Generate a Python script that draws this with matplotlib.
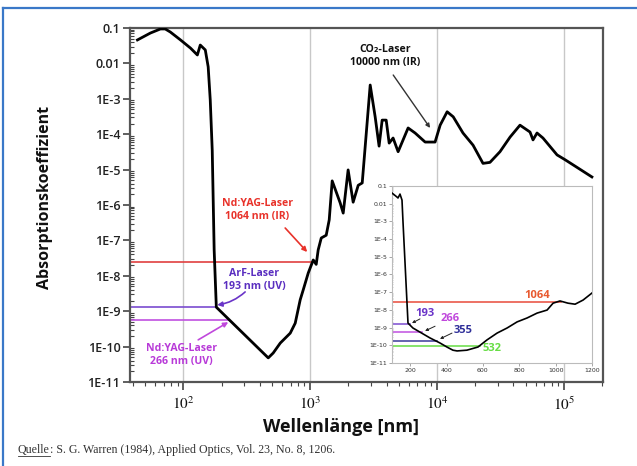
import math
import matplotlib
matplotlib.use("Agg")
import matplotlib.pyplot as plt
from matplotlib.lines import Line2D
from matplotlib.transforms import IdentityTransform
from matplotlib.ticker import LogLocator, FixedLocator, NullFormatter, FuncFormatter

plt.rcParams["mathtext.fontset"] = "stix"

# absorption spectrum of ice (Warren 1984), wavelength in nm
wl = [43.5, 55, 66, 72, 79, 95, 114, 129, 136, 149, 157, 163, 169, 175, 182,
      467, 511, 581, 696, 762, 834, 881, 965, 1057, 1115, 1156, 1222, 1337, 1412, 1490,
      1722, 1820, 1990, 2180, 2390, 2570, 2660, 2970, 3250, 3490, 3690, 3970, 4190, 4500,
      4930, 5910, 6710, 8050, 9640, 10570, 12000, 13400, 16000, 19200, 23000, 26100,
      31300, 37600, 45000, 54000, 57000, 61300, 68300, 88200, 102000, 126000, 166000]
absorb = [0.046, 0.072, 0.094, 0.094, 0.077, 0.046, 0.027, 0.0173, 0.033, 0.024, 0.008,
          9.3e-4, 3.5e-5, 5.4e-8, 1.3e-9,
          4.8e-11, 6.6e-11, 1.26e-10, 2.4e-10, 4.6e-10, 2.1e-9, 4.0e-9, 1.2e-8, 2.8e-8,
          2.1e-8, 5.4e-8, 1.17e-7, 1.4e-7, 3.8e-7, 4.8e-6,
          1.15e-6, 5.9e-7, 9.8e-6, 1.2e-6, 3.6e-6, 4.2e-6, 1.9e-5, 2.45e-3, 3.1e-4, 4.6e-5,
          2.5e-4, 2.5e-4, 5.6e-5, 7.8e-5, 3.2e-5, 1.5e-4, 1.08e-4, 6.0e-5, 6.0e-5, 1.8e-4,
          4.3e-4, 3.1e-4, 1.08e-4, 4.9e-5, 1.5e-5, 1.6e-5, 3.2e-5, 8.3e-5, 1.8e-4, 1.15e-4,
          6.9e-5, 1.08e-4, 7.8e-5, 2.6e-5, 1.9e-5, 1.17e-5, 6.2e-6]

# inset, linear wavelength axis
wl_in = [100, 127, 133, 144, 155, 160, 188, 215, 309, 364, 402, 435, 458, 512, 573,
         622, 678, 733, 788, 843, 898, 953, 986, 1024, 1068, 1107, 1151, 1200]
absorb_in = [0.040, 0.024, 0.021, 0.035, 0.016, 1.2e-3, 1.8e-9, 9.5e-10, 2.6e-10,
             1.35e-10, 8e-11, 5.3e-11, 4.8e-11, 5.3e-11, 8e-11, 2e-10, 4.9e-10, 9.5e-10,
             2.1e-9, 3.5e-9, 6.6e-9, 9.8e-9, 2.4e-8, 3.2e-8, 2.4e-8, 2.1e-8, 3.6e-8, 9e-8]

# laser lines in main plot
main_lasers = ["1064", "193", "266"]
main_level = [2.45e-8, 1.3e-9, 5.6e-10]
main_end = [1064, 180, 226]
main_colors = ["#e04040", "#7a4cd0", "#c050e0"]

# laser lines in inset
in_lasers = ["1064", "193", "266", "355", "532"]
in_level = [2.8e-8, 1.6e-9, 5.6e-10, 1.7e-10, 9.1e-11]
in_end = [1030, 200, 265, 345, 584]
in_colors = ["#e84a3a", "#7a4cd0", "#c050e0", "#3a3a9a", "#66dd44"]
in_text_colors = ["#e85a30", "#6a34c8", "#c048dc", "#30309a", "#66dd44"]

yticks = [10.0 ** e for e in range(-1, -12, -1)]
ylabels = ["0.1", "0.01"] + ["1E-%d" % e for e in range(3, 12)]

fig = plt.figure(figsize=(6.37, 4.66), dpi=100)
W, H = 637, 466


def px(x, y):
    return x / W, 1 - y / H


ax = fig.add_axes([130 / W, 1 - 382 / H, (603 - 130) / W, (382 - 28) / H])
ax.set_xscale("log")
ax.set_yscale("log")
ax.set_xlim(38, 2.03e5)
ax.set_ylim(1e-11, 0.1)
ax.grid(axis="x", which="major", color="#c8c8c8", lw=1)

for lv, end, c in zip(main_level, main_end, main_colors):
    ax.plot([38, end], [lv, lv], color=c, lw=1.2, zorder=2)
ax.plot(wl, absorb, color="black", lw=2, zorder=3, solid_joinstyle="round")

ax.yaxis.set_major_locator(FixedLocator(yticks))
ax.set_yticklabels(ylabels)
ax.yaxis.set_minor_locator(LogLocator(base=10, subs=range(2, 10), numticks=50))
ax.yaxis.set_minor_formatter(NullFormatter())
ax.xaxis.set_major_locator(FixedLocator([1e2, 1e3, 1e4, 1e5]))
ax.xaxis.set_major_formatter(FuncFormatter(lambda v, p: r"$10^{%d}$" % round(math.log10(v))))
ax.xaxis.set_minor_locator(LogLocator(base=10, subs=range(2, 10), numticks=50))
ax.xaxis.set_minor_formatter(NullFormatter())

ax.tick_params(axis="y", which="major", direction="out", length=5, width=1.2,
               color="#444444", labelsize=9, labelcolor="#222222", pad=2)
ax.tick_params(axis="y", which="minor", direction="in", length=3, width=0.8, color="#444444")
ax.tick_params(axis="x", which="major", direction="out", length=6, width=1.2,
               color="#444444", labelsize=11, labelcolor="#111111", pad=4)
ax.tick_params(axis="x", which="minor", direction="out", length=3, width=0.8, color="#444444")
for lab in ax.get_yticklabels():
    lab.set_family("Open Sans")
    lab.set_fontweight("semibold")
for s in ax.spines.values():
    s.set_color("#555555")
    s.set_linewidth(1.6)

# annotations, main plot
ann = dict(fontsize=7.6, fontweight="bold", family=["Open Sans", "DejaVu Sans"],
           ha="center", va="center", linespacing=1.25)
ax.text(383, 7.2e-7, "Nd:YAG-Laser\n1064 nm (IR)", color="#e8322a", **ann)
ax.annotate("", xy=(947, 4.7e-8), xytext=(635, 2.24e-7),
            arrowprops=dict(arrowstyle="-|>", color="#e8322a", lw=1.2,
                            mutation_scale=7, shrinkA=0, shrinkB=0))
ax.text(360, 7.6e-9, "ArF-Laser\n193 nm (UV)", color="#5a2ec0", **ann)
ax.annotate("", xy=(185, 1.5e-9), xytext=(307, 3.5e-9),
            arrowprops=dict(arrowstyle="-|>", color="#6a34c8", lw=1.2,
                            mutation_scale=7, shrinkA=0, shrinkB=0,
                            connectionstyle="arc3,rad=-0.15"))
ax.text(96, 5.7e-11, "Nd:YAG-Laser\n266 nm (UV)", color="#b83ad8", **ann)
ax.annotate("", xy=(226, 4.9e-10), xytext=(131, 1.55e-10),
            arrowprops=dict(arrowstyle="-|>", color="#c048dc", lw=1.2,
                            mutation_scale=7, shrinkA=0, shrinkB=0))
ax.text(3900, 0.0157, "CO\u2082-Laser\n10000 nm (IR)", color="#111111", **ann)
ax.annotate("", xy=(8810, 1.5e-4), xytext=(4510, 4.7e-3),
            arrowprops=dict(arrowstyle="-|>", color="#333333", lw=1.0,
                            mutation_scale=6, shrinkA=0, shrinkB=0))

# inset
axi = fig.add_axes([392 / W, 1 - 363 / H, (592 - 392) / W, (363 - 186) / H])
axi.set_yscale("log")
axi.set_xlim(100, 1200)
axi.set_ylim(1e-11, 0.1)
for lv, end, c in zip(in_level, in_end, in_colors):
    axi.plot([100, end], [lv, lv], color=c, lw=1.1, zorder=2)
axi.plot(wl_in, absorb_in, color="black", lw=1.2, zorder=3, solid_joinstyle="round")
axi.yaxis.set_major_locator(FixedLocator(yticks))
axi.set_yticklabels(ylabels)
axi.yaxis.set_minor_locator(LogLocator(base=10, subs=range(2, 10), numticks=50))
axi.yaxis.set_minor_formatter(NullFormatter())
axi.set_xticks([200, 400, 600, 800, 1000, 1200])
axi.tick_params(which="major", direction="out", length=2, width=0.6, color="#999999",
                labelsize=4.5, labelcolor="#333333", pad=1.5)
axi.tick_params(which="minor", direction="in", length=1, width=0.4, color="#aaaaaa")
for s in axi.spines.values():
    s.set_color("#bbbbbb")
    s.set_linewidth(0.8)

inl = dict(fontsize=8, fontweight="bold", family="Open Sans", ha="center", va="center")
axi.text(898, 6.9e-8, "1064", color=in_text_colors[0], **inl)
axi.text(282, 6.6e-9, "193", color=in_text_colors[1], **inl)
axi.text(419, 3.1e-9, "266", color=in_text_colors[2], **inl)
axi.text(490, 6.5e-10, "355", color=in_text_colors[3], **inl)
axi.text(650, 6.2e-11, "532", color=in_text_colors[4], **inl)
small = dict(arrowstyle="-|>", color="#222222", lw=0.7, mutation_scale=4, shrinkA=0, shrinkB=0)
axi.annotate("", xy=(210, 1.8e-9), xytext=(254, 3.1e-9), arrowprops=small)
axi.annotate("", xy=(282, 6.5e-10), xytext=(337, 1.2e-9), arrowprops=small)
axi.annotate("", xy=(364, 2.3e-10), xytext=(430, 4.9e-10), arrowprops=small)

# axis titles
fig.text(*px(45, 197), "Absorptionskoeffizient", rotation=90, ha="center", va="center",
         fontsize=11.5, fontweight="bold", family="Open Sans", color="#111111")
fig.text(*px(341, 427), "Wellenl\u00e4nge [nm]", ha="center", va="center",
         fontsize=13, fontweight="bold", family="Open Sans", color="#111111")

# source line with underlined "Quelle"
q = fig.text(*px(18, 450), "Quelle", ha="left", va="center", fontsize=8.6,
             family="Liberation Serif", color="#333333")
fig.canvas.draw()
bb = q.get_window_extent()
fig.add_artist(Line2D([bb.x0, bb.x1], [bb.y0 + 0.5, bb.y0 + 0.5], color="#333333",
                      lw=0.6, transform=IdentityTransform()))
fig.text(bb.x1 / W, 1 - 450 / H, ": S. G. Warren (1984), Applied Optics, Vol. 23, No. 8, 1206.",
         ha="left", va="center", fontsize=8.6, family="Liberation Serif", color="#333333")

# blue frame
fig.add_artist(Line2D([3 / W, 1], [1 - 8 / H, 1 - 8 / H], color="#3a78c8", lw=1.6,
                      transform=fig.transFigure))
fig.add_artist(Line2D([3 / W, 3 / W], [0, 1 - 8 / H], color="#3a78c8", lw=1.6,
                      transform=fig.transFigure))

fig.savefig("out.png", dpi=100)
